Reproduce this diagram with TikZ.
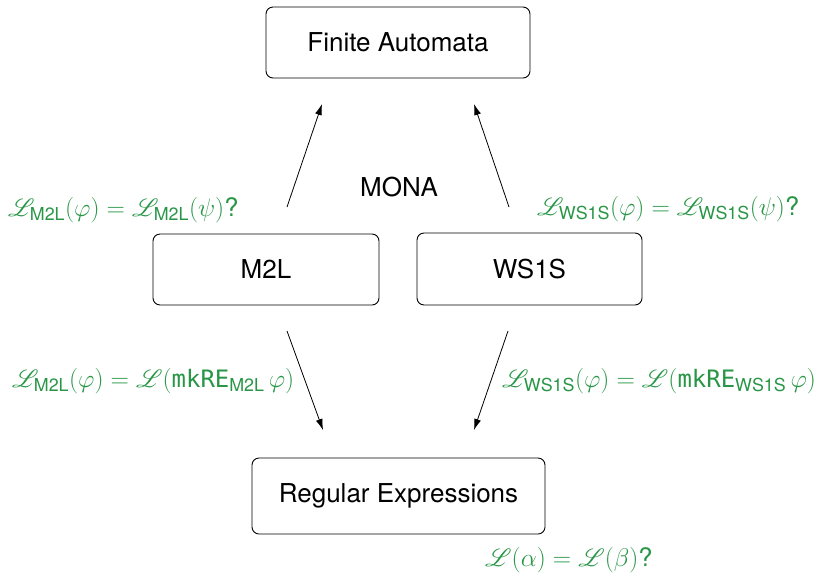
\RequirePackage{fix-cm}
\documentclass[tikz,border=0pt]{standalone}
\usepackage{fontspec}
\setsansfont{TeX Gyre Heros}
\setmonofont[Scale=0.94]{DejaVu Sans Mono}
\usepackage{mathrsfs}
\usetikzlibrary{arrows.meta}
\definecolor{eqgreen}{RGB}{40,150,70}
\newcommand{\Lang}{\mathscr{L}}
\tikzset{
  box/.style={draw=black, line width=0.9pt, rounded corners=7pt, inner sep=0pt,
    font=\fontsize{26}{30}\selectfont\sffamily},
  eq/.style={text=eqgreen, inner sep=0pt, anchor=west,
    font=\fontsize{25.5}{30}\selectfont\sffamily},
  arr/.style={line width=0.8pt, -{Latex[length=11pt,width=7pt]}},
}
\begin{document}
\begin{tikzpicture}[x=1pt,y=-1pt]
\useasboundingbox (0,0) rectangle (818,574);
% logics and their decision procedures
\node[box, minimum width=264pt, minimum height=71pt] (fa) at (398,42.5) {Finite Automata};
\node[box, minimum width=226pt, minimum height=71pt] (m2l) at (266,269.5) {M2L};
\node[box, minimum width=225pt, minimum height=72pt] (ws1s) at (529.5,269) {WS1S};
\node[box, minimum width=293pt, minimum height=76pt] (re) at (398.5,496) {Regular Expressions};
\node[font=\fontsize{26}{30}\selectfont\sffamily] (mona) at (399,187) {MONA};
% arrow end points
\coordinate (m2lUp) at (287,207);
\coordinate (faL) at (322,104);
\coordinate (ws1sUp) at (509,207);
\coordinate (faR) at (474,104);
\coordinate (m2lDn) at (287,331);
\coordinate (reL) at (323,430);
\coordinate (ws1sDn) at (508,331);
\coordinate (reR) at (474,430);
\draw[arr] (m2lUp) -- (faL);
\draw[arr] (ws1sUp) -- (faR);
\draw[arr] (m2lDn) -- (reL);
\draw[arr] (ws1sDn) -- (reR);
% language equalities
\node[eq] (eqm2l) at (8,210) {$\Lang_{\mathsf{M2L}}(\varphi)=\Lang_{\mathsf{M2L}}(\psi)$?};
\node[eq] (eqws1s) at (537,209) {$\Lang_{\mathsf{WS1S}}(\varphi)=\Lang_{\mathsf{WS1S}}(\psi)$?};
\node[eq] (mkm2l) at (12,381) {$\Lang_{\mathsf{M2L}}(\varphi)=\Lang(\mathtt{mkRE}_{\mathsf{M2L}}\,\varphi)$};
\node[eq] (mkws1s) at (502,381) {$\Lang_{\mathsf{WS1S}}(\varphi)=\Lang(\mathtt{mkRE}_{\mathsf{WS1S}}\,\varphi)$};
\node[eq] (eqre) at (485,560) {$\Lang(\alpha)=\Lang(\beta)$?};
\end{tikzpicture}
\end{document}
